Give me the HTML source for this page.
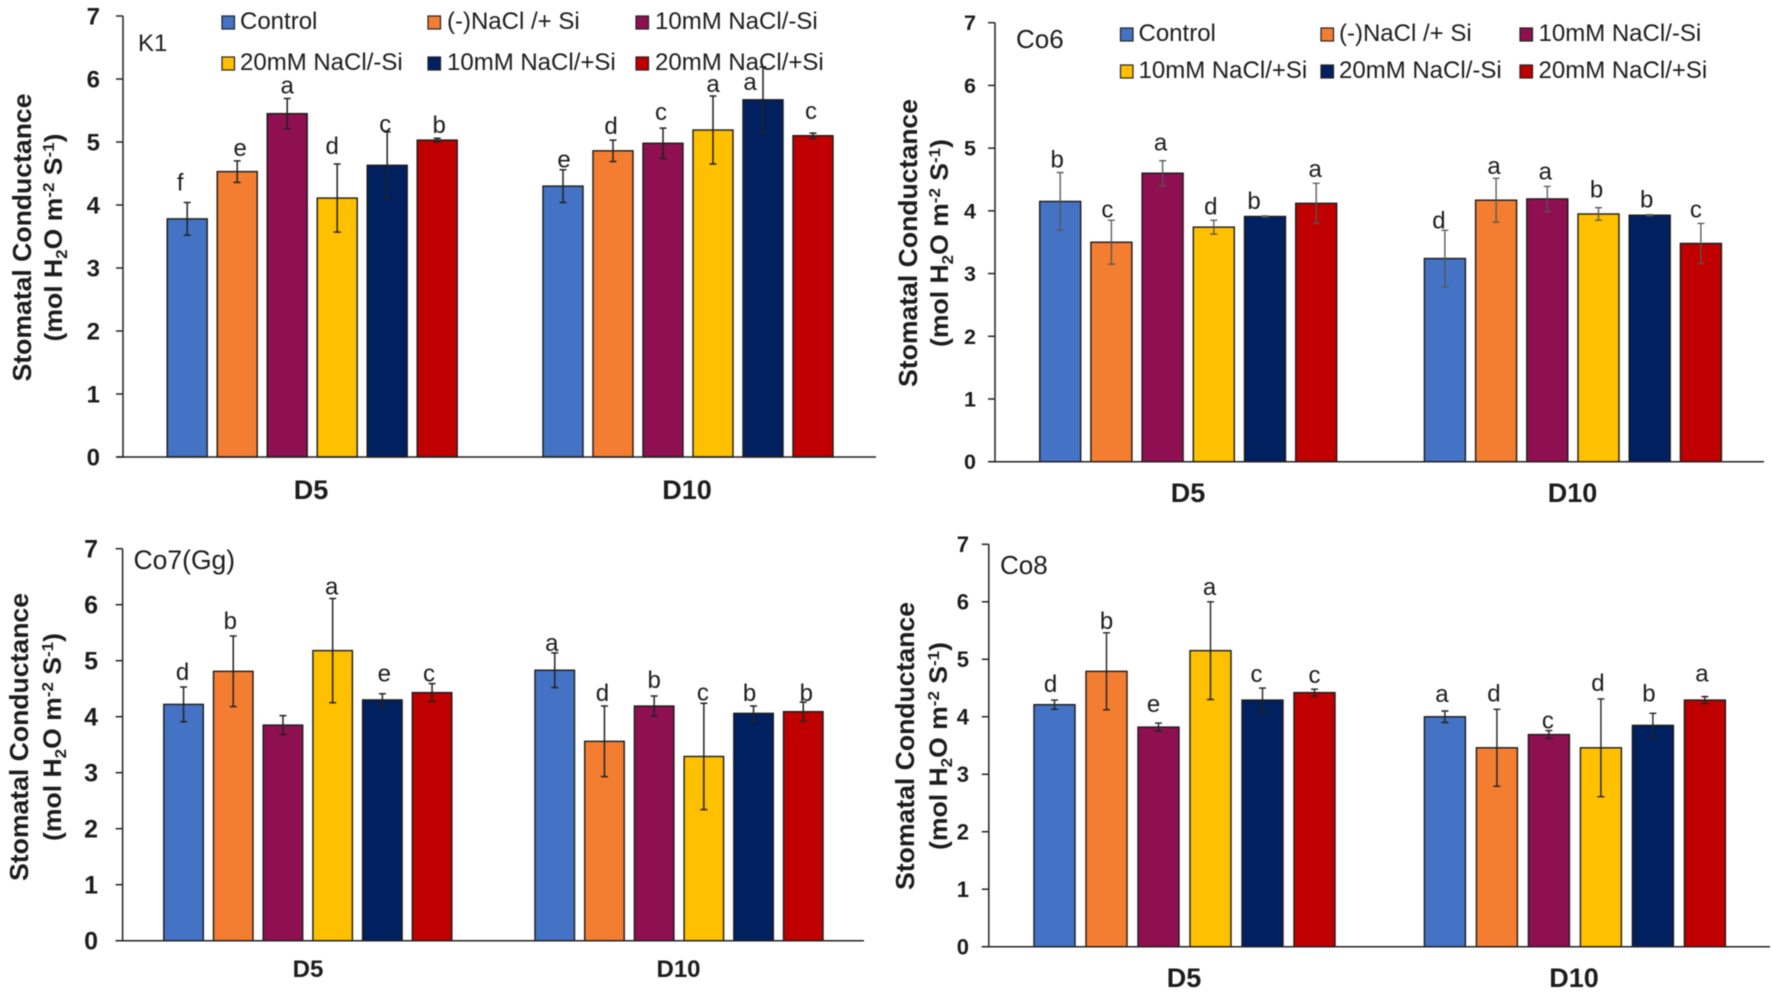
<!DOCTYPE html>
<html lang="en">
<head>
<meta charset="utf-8">
<title>Stomatal Conductance by Cultivar</title>
<style>
html,body{margin:0;padding:0;background:#fff;width:1772px;height:994px;overflow:hidden}
svg{display:block;filter:blur(0.4px)}
text{font-family:"Liberation Sans",Arial,sans-serif;fill:#1c1c1c}
</style>
</head>
<body>
<svg id="figure" xmlns="http://www.w3.org/2000/svg" width="1772" height="994" viewBox="0 0 1772 994"></svg>
<script>
// ---------- data ----------
const categories = ["D5", "D10"];
const yTickLabels = ["0", "1", "2", "3", "4", "5", "6", "7"];
const seriesColors = ["#4472C4", "#F37E31", "#8E1050", "#FFC000", "#002060", "#C00000"];

const k1Legend = ["Control", "(-)NaCl /+ Si", "10mM NaCl/-Si", "20mM NaCl/-Si", "10mM NaCl/+Si", "20mM NaCl/+Si"];
const co6Legend = ["Control", "(-)NaCl /+ Si", "10mM NaCl/-Si", "10mM NaCl/+Si", "20mM NaCl/-Si", "20mM NaCl/+Si"];

const k1D5Values = [3.78, 4.53, 5.45, 4.11, 4.63, 5.03];
const k1D10Values = [4.30, 4.86, 4.98, 5.19, 5.67, 5.10];
const k1D5Errors = [0.26, 0.17, 0.24, 0.54, 0.53, 0.03];
const k1D10Errors = [0.26, 0.17, 0.24, 0.54, 0.52, 0.04];
const k1D5Letters = ["f", "e", "a", "d", "c", "b"];
const k1D10Letters = ["e", "d", "c", "a", "a", "c"];

const co6D5Values = [4.15, 3.50, 4.60, 3.74, 3.91, 4.12];
const co6D10Values = [3.24, 4.17, 4.19, 3.95, 3.93, 3.48];
const co6D5Errors = [0.46, 0.35, 0.20, 0.11, 0.01, 0.32];
const co6D10Errors = [0.45, 0.35, 0.20, 0.10, 0.01, 0.32];
const co6D5Letters = ["b", "c", "a", "d", "b", "a"];
const co6D10Letters = ["d", "a", "a", "b", "b", "c"];

const co7D5Values = [4.22, 4.81, 3.85, 5.18, 4.30, 4.43];
const co7D10Values = [4.83, 3.56, 4.19, 3.29, 4.06, 4.09];
const co7D5Errors = [0.31, 0.63, 0.17, 0.93, 0.11, 0.16];
const co7D10Errors = [0.31, 0.63, 0.18, 0.95, 0.13, 0.17];
const co7D5Letters = ["d", "b", "", "a", "e", "c"];
const co7D10Letters = ["a", "d", "b", "c", "b", "b"];

const co8D5Values = [4.21, 4.79, 3.82, 5.15, 4.29, 4.42];
const co8D10Values = [4.00, 3.46, 3.69, 3.46, 3.85, 4.29];
const co8D5Errors = [0.08, 0.67, 0.07, 0.85, 0.21, 0.06];
const co8D10Errors = [0.10, 0.67, 0.07, 0.85, 0.21, 0.06];
const co8D5Letters = ["d", "b", "e", "a", "c", "c"];
const co8D10Letters = ["a", "d", "c", "d", "b", "a"];

// ---------- layout ----------
const panels = [
  {id:"k1", label:"K1", labelX:138, labelY:51, labelSize:24,
   axisX:123, axisEnd:876, y0:457, y7:16, groupStart:[167.2,543], pitch:50, barW:40,
   tickRight:100, tickSize:24, catY:499, catX:[311,687], catSize:27,
   t1X:31, t2X:62, tY:237.5, errColor:"#222", errW:1.5,
   lift:[[12,5,5,10,0,5],[2,6,8,4,-23,14]], shift:[[-7,3,0,-5,-2,2],[1,-2,-2,0,-13,-2]],
   values:[k1D5Values,k1D10Values], errors:[k1D5Errors,k1D10Errors], letters:[k1D5Letters,k1D10Letters],
   legend:k1Legend, swatchX:[222,428,636], textX:[240,447,655], baseY:[29,70]},
  {id:"co6", label:"Co6", labelX:1016, labelY:48, labelSize:26,
   axisX:995, axisEnd:1764, y0:461.7, y7:22.7, groupStart:[1039.7,1424.4], pitch:51.2, barW:41,
   tickRight:976, tickSize:21.5, catY:502, catX:[1188,1572.5], catSize:27,
   t1X:917, t2X:948, tY:243, errColor:"#555", errW:1.3,
   lift:[[5,3,10,6,7,6],[2,4,7,10,7,6]], shift:[[-3,-4,-2,-3,-11,-1],[-6,-2,-2,-2,-3,-5]],
   values:[co6D5Values,co6D10Values], errors:[co6D5Errors,co6D10Errors], letters:[co6D5Letters,co6D10Letters],
   legend:co6Legend, swatchX:[1120.5,1321,1520], textX:[1138.5,1339,1538.5], baseY:[41,78]},
  {id:"co7", label:"Co7(Gg)", labelX:133.5, labelY:569, labelSize:26.5,
   axisX:122.6, axisEnd:864, y0:940.7, y7:548.7, groupStart:[163.8,535], pitch:49.7, barW:39.5,
   tickRight:98, tickSize:25, catY:977, catX:[308,678.5], catSize:24,
   t1X:28, t2X:61, tY:737, errColor:"#222", errW:1.5,
   lift:[[7,7,0,4,12,2],[2,5,8,3,5,1]], shift:[[-1,-3,0,-1,2,-3],[-3,-2,0,-1,-4,3]],
   values:[co7D5Values,co7D10Values], errors:[co7D5Errors,co7D10Errors], letters:[co7D5Letters,co7D10Letters],
   legend:[], swatchX:[], textX:[], baseY:[]},
  {id:"co8", label:"Co8", labelX:1000, labelY:574, labelSize:26,
   axisX:988.8, axisEnd:1770, y0:946.7, y7:544.3, groupStart:[1034,1424.4], pitch:52, barW:41,
   tickRight:969, tickSize:22, catY:987, catX:[1184,1574], catSize:27,
   t1X:914, t2X:947, tY:746, errColor:"#222", errW:1.4,
   lift:[[8,4,11,7,6,6],[9,8,2,8,12,15]], shift:[[-4,0,-5,-1,-6,0],[-3,-3,-1,-3,-4,-3]],
   values:[co8D5Values,co8D10Values], errors:[co8D5Errors,co8D10Errors], letters:[co8D5Letters,co8D10Letters],
   legend:[], swatchX:[], textX:[], baseY:[]}
];

// ---------- helpers ----------
const SVG_NS = "http://www.w3.org/2000/svg";
const figure = document.getElementById("figure");

function svgEl(parent, tag, attrs) {
  const el = document.createElementNS(SVG_NS, tag);
  for (const k in attrs) el.setAttribute(k, attrs[k]);
  parent.appendChild(el);
  return el;
}
function yScale(p, v) {
  return p.y0 - (v / 7) * (p.y0 - p.y7);
}
function xScale(p, group, series) {
  return p.groupStart[group] + series * p.pitch;
}

function drawPanel(p) {
  const g = svgEl(figure, "g", {});
  
  

  // bars, then error bars and significance letters
  categories.forEach(function (cat, gi) {
    p.values[gi].forEach(function (v, si) {
      const x = xScale(p, gi, si);
      const top = yScale(p, v);
      const bar = svgEl(g, "rect", {x:x, y:top, width:p.barW, height:p.y0 - top,
        fill:seriesColors[si], stroke:"#1a1a1a", "stroke-width":1.4});
      
      

      const cx = x + p.barW / 2;
      const e = p.errors[gi][si];
      const yHi = yScale(p, v + e);
      const yLo = yScale(p, v - e);
      const err = svgEl(g, "path", {
        d:"M" + cx + " " + yHi + "V" + yLo + "M" + (cx - 3.5) + " " + yHi + "H" + (cx + 3.5) + "M" + (cx - 3.5) + " " + yLo + "H" + (cx + 3.5),
        fill:"none", stroke:p.errColor, "stroke-width":p.errW});
      
      

      const letter = p.letters[gi][si];
      if (letter) {
        const t = svgEl(g, "text", {x:cx + p.shift[gi][si], y:yHi - p.lift[gi][si],
          "font-size":24, "text-anchor":"middle"});
        t.textContent = letter;
        
        
      }
    });

    const catLabel = svgEl(g, "text", {x:p.catX[gi], y:p.catY, "font-size":p.catSize,
      "font-weight":"bold", "text-anchor":"middle"});
    catLabel.textContent = cat;
    
    
  });

  // axes
  const xAxis = svgEl(g, "line", {x1:p.axisX - 7, x2:p.axisEnd, y1:p.y0, y2:p.y0, stroke:"#222", "stroke-width":1.5});
  
  
  const yAxis = svgEl(g, "line", {x1:p.axisX, x2:p.axisX, y1:p.y7, y2:p.y0, stroke:"#222", "stroke-width":1.5});
  
  

  yTickLabels.forEach(function (lab) {
    const y = yScale(p, Number(lab));
    const tick = svgEl(g, "line", {x1:p.axisX - 7, x2:p.axisX, y1:y, y2:y, stroke:"#222", "stroke-width":1.5});
    
    
    const t = svgEl(g, "text", {x:p.tickRight, y:y + p.tickSize * 0.35, "font-size":p.tickSize,
      "font-weight":"bold", "text-anchor":"end"});
    t.textContent = lab;
    
    
  });

  // y axis title, two rotated lines
  const t1 = svgEl(g, "text", {transform:"translate(" + p.t1X + " " + p.tY + ") rotate(-90)",
    "font-size":26, "font-weight":"bold", "text-anchor":"middle",
    textLength:288, lengthAdjust:"spacingAndGlyphs"});
  t1.textContent = "Stomatal Conductance";
  
  

  const t2 = svgEl(g, "text", {transform:"translate(" + p.t2X + " " + p.tY + ") rotate(-90)",
    "font-size":25, "font-weight":"bold", "text-anchor":"middle",
    textLength:208, lengthAdjust:"spacingAndGlyphs"});
  
  
  t2.appendChild(document.createTextNode("(mol H"));
  [["2", 5, 16], ["O m", -5, 25], ["-2", -8, 16], [" S", 8, 25], ["-1", -8, 16], [")", 8, 25]].forEach(function (part) {
    const s = svgEl(t2, "tspan", {dy:part[1], "font-size":part[2]});
    s.textContent = part[0];
  });

  // panel label
  const name = svgEl(g, "text", {x:p.labelX, y:p.labelY, "font-size":p.labelSize});
  name.textContent = p.label;
  
  

  // legend: two rows of three entries
  p.legend.forEach(function (entry, i) {
    const col = i % 3;
    const row = Math.floor(i / 3);
    const base = p.baseY[row];
    const item = svgEl(g, "g", {});
    
    
    svgEl(item, "rect", {x:p.swatchX[col], y:base - 13, width:12.5, height:13,
      fill:seriesColors[i], stroke:"#222", "stroke-width":1.2});
    const t = svgEl(item, "text", {x:p.textX[col], y:base, "font-size":24});
    t.textContent = entry;
  });
}

panels.forEach(drawPanel);
</script>
</body>
</html>
